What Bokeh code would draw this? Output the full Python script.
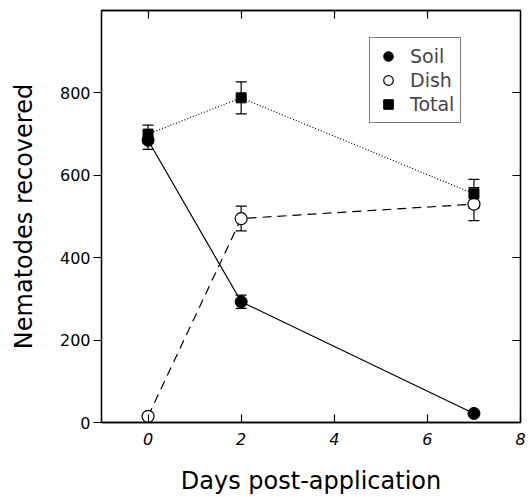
from bokeh.plotting import figure
from bokeh.models import (LinearAxis, FixedTicker, Whisker, TeeHead, ColumnDataSource,
                          Legend, LegendItem, Range1d)
from bokeh.embed import file_html
from bokeh.resources import INLINE

# ---- data ----
days = [0, 2, 7]
soil = [685, 293, 22]
soil_err = [22, 16, 0]
dish = [15, 495, 530]
dish_err = [0, 30, 40]
total = [700, 788, 555]
total_err = [22, 39, 35]

x_ticks = [0, 2, 4, 6, 8]
y_ticks = [0, 200, 400, 600, 800]

FONT = "DejaVu Sans"

p = figure(width=530, height=497, output_backend="svg", toolbar_location=None,
           x_range=Range1d(-1, 8), y_range=Range1d(0, 1000),
           x_axis_location=None, y_axis_location=None,
           min_border_left=101, min_border_right=10, min_border_top=10, min_border_bottom=74)
p.xgrid.visible = False
p.ygrid.visible = False
p.outline_line_color = "black"
p.outline_line_width = 1.3
p.background_fill_color = "white"
p.border_fill_color = "white"


def make_axis(ticks, loc, tick_in, tick_out, label=None, show_labels=True, italic=False):
    ax = LinearAxis(ticker=FixedTicker(ticks=ticks))
    ax.major_tick_in = tick_in
    ax.major_tick_out = tick_out
    ax.minor_tick_line_color = None
    ax.axis_line_color = "black"
    ax.axis_line_width = 1.3
    ax.major_tick_line_width = 1.2
    ax.major_tick_line_color = "black"
    if show_labels:
        ax.major_label_text_font = FONT
        ax.major_label_text_font_size = "16px"
        ax.major_label_text_color = "black"
        if italic:
            ax.major_label_text_font_style = "italic"
    else:
        ax.major_label_text_font_size = "1px"
        ax.major_label_text_color = None
        ax.major_label_standoff = 0
    if label:
        ax.axis_label = label
        ax.axis_label_text_font = FONT
        ax.axis_label_text_font_size = "24px"
        ax.axis_label_text_font_style = "normal"
        ax.axis_label_text_color = "black"
    p.add_layout(ax, loc)
    return ax


bx = make_axis(x_ticks, "below", 8, 0, "Days post-application", italic=True)
bx.major_label_standoff = 10
bx.axis_label_standoff = 19
ly = make_axis(y_ticks, "left", 0, 8, "Nematodes recovered")
ly.major_label_standoff = 3
ly.axis_label_standoff = 19
make_axis([0, 2, 4, 6], "above", 8, 0, show_labels=False)
make_axis([200, 400, 600, 800], "right", 8, 0, show_labels=False)

# ---- lines ----
p.line(days, soil, line_color="black", line_width=1.2)
p.line(days, dish, line_color="black", line_width=1.2, line_dash="9 6")
p.line(days, total, line_color="black", line_width=1.2, line_dash="1 2")


def add_err(vals, errs):
    src = ColumnDataSource(dict(x=days,
                                lo=[v - e for v, e in zip(vals, errs)],
                                hi=[v + e for v, e in zip(vals, errs)]))
    w = Whisker(source=src, base="x", lower="lo", upper="hi",
                line_color="black", line_width=1.2,
                upper_head=TeeHead(size=11, line_color="black", line_width=1.2),
                lower_head=TeeHead(size=11, line_color="black", line_width=1.2))
    p.add_layout(w)


add_err(soil, soil_err)
add_err(dish, dish_err)
add_err(total, total_err)

r_soil = p.scatter(days, soil, marker="circle", size=12, fill_color="black", line_color="black")
r_dish = p.scatter(days, dish, marker="circle", size=12, fill_color="white", line_color="black",
                   line_width=1.2)
r_total = p.scatter(days, total, marker="square", size=10, fill_color="black", line_color="black")

legend = Legend(items=[LegendItem(label="Soil", renderers=[r_soil]),
                       LegendItem(label="Dish", renderers=[r_dish]),
                       LegendItem(label="Total", renderers=[r_total])],
                location=(268, 299), margin=0, padding=6, spacing=0,
                glyph_width=24, glyph_height=24, label_height=24, label_standoff=10,
                label_text_font=FONT, label_text_font_size="19px",
                border_line_color="black", border_line_width=1.2,
                background_fill_color="white", background_fill_alpha=1)
p.add_layout(legend, "center")

open("out.html", "w").write(file_html(p, INLINE))
